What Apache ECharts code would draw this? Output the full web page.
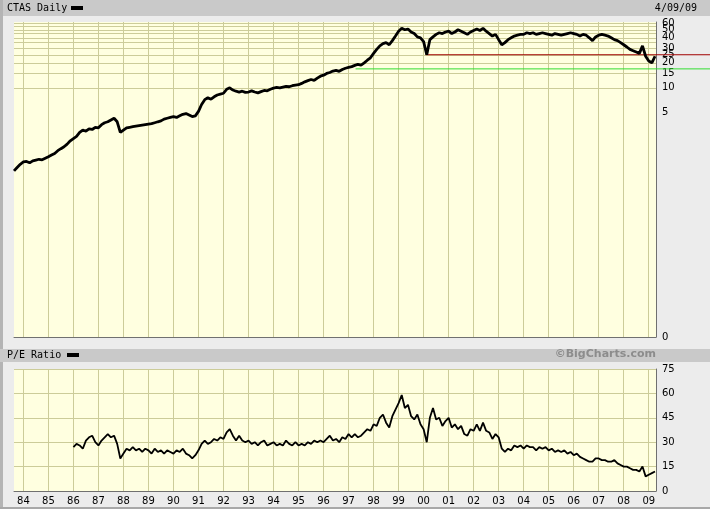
<!DOCTYPE html>
<html><head><meta charset="utf-8">
<script src="https://cdn.jsdelivr.net/npm/echarts@6/dist/echarts.min.js"></script>
<style>html,body{margin:0;padding:0;background:#ececec}#c{width:710px;height:509px}</style>
</head><body><div id="c"></div><script>
// ---- data ----
const priceStart = 1983.625;
const priceStep = 0.125;
const priceValues = [
  1.0,1.1,1.2,
  1.28,1.3,1.25,1.32,1.35,1.38,1.36,1.42,
  1.48,1.55,1.62,1.75,1.85,1.95,2.1,2.3,
  2.45,2.6,2.9,3.1,3.0,3.2,3.15,3.35,
  3.3,3.6,3.8,3.9,4.1,4.3,3.9,2.9,
  3.1,3.3,3.35,3.4,3.45,3.5,3.55,3.6,
  3.65,3.7,3.8,3.9,4.0,4.2,4.3,4.4,
  4.5,4.4,4.6,4.8,4.9,4.7,4.5,4.6,
  5.2,6.3,7.2,7.6,7.3,7.8,8.2,8.4,
  8.6,9.6,10.0,9.4,9.1,8.9,9.1,8.8,
  8.9,9.2,8.9,8.7,9.0,9.3,9.2,9.6,
  9.9,10.1,10.0,10.2,10.4,10.3,10.6,10.8,
  10.9,11.3,11.8,12.2,12.6,12.3,13.1,13.8,
  14.2,14.9,15.3,15.9,16.2,15.8,16.6,17.2,
  17.6,18.0,18.6,19.2,18.8,20.0,21.5,23.0,
  26,29,32,34,35,33,37,42,
  48,52,50,51,47,45,41,40,
  36,25,38,41,44,46,45,47,
  48,45,47,50,48,46,44,47,
  49,51,49,52,48,45,42,44,
  38,33,35,38,40,42,43,44,
  44,46,45,46,44,45,46,45,
  44,43,45,44,43,44,45,46,
  45,44,42,44,43,40,37,41,
  43,44,43,42,40,38,37,35,
  33,31,29,28,27,26,32,24,
  21,20,24
];
const peStart = 1986.0;
const peStep = 0.125;
const peValues = [
  27,29,28,26,31,33,34,30,
  28,31,33,35,33,34,29,20,
  23,26,25,27,25,26,24,26,
  25,23,26,24,25,23,25,24,
  23,25,24,26,23,22,20,22,
  25,29,31,29,30,32,31,33,
  32,36,38,34,31,34,31,30,
  31,29,30,28,30,31,28,29,
  30,28,29,28,31,29,28,30,
  28,29,28,30,29,31,30,31,
  30,32,34,31,32,30,33,32,
  35,33,35,33,34,36,38,37,
  41,40,45,47,42,39,46,50,
  54,59,51,53,46,44,47,41,
  38,30,45,51,44,45,40,43,
  45,39,41,38,40,35,34,38,
  37,41,37,42,37,36,32,35,
  33,26,24,26,25,28,27,28,
  26,28,27,27,25,27,26,27,
  25,26,24,25,24,25,23,24,
  22,23,21,20,19,18,18,20,
  20,19,19,18,18,19,17,16,
  15,15,14,13,13,12,15,9,
  10,11,12
];
const yearTicks = [1984,1985,1986,1987,1988,1989,1990,1991,1992,1993,1994,1995,1996,1997,1998,1999,2000,2001,2002,2003,2004,2005,2006,2007,2008,2009];
const priceLabelTicks = [0.01,5,10,15,20,25,30,40,50,60];
const priceGridTicks = [10,15,20,25,30,35,40,45,50,55,60];
const redLine = [[2000.08,25],[2012,25]];
const greenLine = [[1997.28,16.9],[2012,16.9]];

// ---- chart ----
const xMin = priceStart, xMax = 2009.29;
const plotW = 642, extW = 696;
const xMaxExt = xMin + (xMax - xMin) * extW / plotW;
const pricePts = priceValues.map((v,i)=>[priceStart + i*priceStep, v]);
const pePts = peValues.map((v,i)=>[peStart + i*peStep, v]);
// split labels across two identical axes so that close labels near the top are all kept
const mainLabels = priceLabelTicks.filter(v => v !== 50);
const extraLabels = priceLabelTicks.filter(v => v === 50);

const gridColor = '#cccc99';
const axisColor = '#707070';
const lblFont = {color:'#000', fontSize:10, fontFamily:'DejaVu Sans'};
const priceFmt = v => v < 1 ? '0' : String(Math.round(v));

function xAx(g, showLabel){
  return {type:'value', gridIndex:g, min:xMin, max:xMax,
    axisLine:{show:true, onZero:false, lineStyle:{color:axisColor, width:1}},
    axisTick:{show:false, customValues:yearTicks},
    axisLabel:Object.assign({show:showLabel, customValues:yearTicks, margin:5, hideOverlap:false,
      formatter:v=>String(Math.round(v)%100).padStart(2,'0')}, lblFont),
    splitLine:{show:true, lineStyle:{color:gridColor, width:1}}
  };
}

const chart = echarts.init(document.getElementById('c'), null, {renderer:'canvas'});
chart.setOption({
  backgroundColor:'#ececec',
  animation:false,
  grid:[
    {left:14, top:22, width:plotW, height:315, show:true, backgroundColor:'#ffffe0', borderWidth:0},
    {left:14, top:369, width:plotW, height:122, show:true, backgroundColor:'#ffffe0', borderWidth:0},
    {left:14, top:22, width:extW, height:315, show:false},
    {left:14, top:22, width:plotW, height:315, show:false}
  ],
  xAxis:[
    xAx(0,false),
    xAx(1,true),
    {type:'value', gridIndex:2, min:xMin, max:xMaxExt, show:false},
    {type:'value', gridIndex:3, min:xMin, max:xMax, show:false}
  ],
  yAxis:[
    {type:'log', gridIndex:0, position:'right', min:0.01, max:62, logBase:10,
      axisLine:{show:true, lineStyle:{color:axisColor}},
      axisTick:{show:false, customValues:priceGridTicks},
      axisLabel:Object.assign({customValues:mainLabels, margin:6, hideOverlap:false,
        showMinLabel:true, showMaxLabel:true, formatter:priceFmt}, lblFont),
      splitLine:{show:true, lineStyle:{color:gridColor}}},
    {type:'value', gridIndex:1, position:'right', min:0, max:75, interval:15,
      axisLine:{show:true, lineStyle:{color:axisColor}},
      axisTick:{show:false},
      axisLabel:Object.assign({margin:6, hideOverlap:false}, lblFont),
      splitLine:{show:true, lineStyle:{color:gridColor}}},
    {type:'log', gridIndex:2, min:0.01, max:62, logBase:10, show:false},
    {type:'log', gridIndex:3, position:'right', min:0.01, max:62, logBase:10,
      axisLine:{show:false}, axisTick:{show:false}, splitLine:{show:false},
      axisLabel:Object.assign({customValues:extraLabels, margin:6, showMinLabel:true, showMaxLabel:true,
        formatter:priceFmt}, lblFont)}
  ],
  series:[
    {type:'line', xAxisIndex:2, yAxisIndex:2, data:redLine, symbol:'none', silent:true, z:1,
      lineStyle:{color:'#a00000', width:1}},
    {type:'line', xAxisIndex:2, yAxisIndex:2, data:greenLine, symbol:'none', silent:true, z:1,
      lineStyle:{color:'#33dd33', width:1}},
    {type:'line', xAxisIndex:0, yAxisIndex:0, data:pricePts, symbol:'none', z:3,
      lineStyle:{color:'#000', width:2.8}},
    {type:'line', xAxisIndex:1, yAxisIndex:1, data:pePts, symbol:'none', z:3,
      lineStyle:{color:'#000', width:1.8}}
  ],
  graphic:[
    {type:'rect', shape:{x:0,y:0,width:710,height:16}, style:{fill:'#c9c9c9'}, silent:true, z:-1},
    {type:'rect', shape:{x:0,y:0,width:3,height:509}, style:{fill:'#b4b4b4'}, silent:true, z:-1},
    {type:'rect', shape:{x:0,y:349,width:710,height:13}, style:{fill:'#c9c9c9'}, silent:true, z:-1},
    {type:'rect', shape:{x:0,y:507,width:710,height:2}, style:{fill:'#a8a8a8'}, silent:true, z:-1},
    {type:'text', left:7, top:3, style:{text:'CTAS Daily', font:'10px "DejaVu Sans Mono"', fill:'#000'}},
    {type:'rect', shape:{x:71,y:6,width:12,height:4}, style:{fill:'#000'}},
    {type:'text', right:13, top:3, style:{text:'4/09/09', font:'10px "DejaVu Sans Mono"', fill:'#000'}},
    {type:'text', left:7, top:350, style:{text:'P/E Ratio', font:'10px "DejaVu Sans Mono"', fill:'#000'}},
    {type:'rect', shape:{x:67,y:353,width:12,height:4}, style:{fill:'#000'}},
    {type:'text', right:54, top:349, style:{text:'\u00a9BigCharts.com', font:'bold 11px "DejaVu Sans"', fill:'#8c8c8c'}}
  ]
});
</script></body></html>
